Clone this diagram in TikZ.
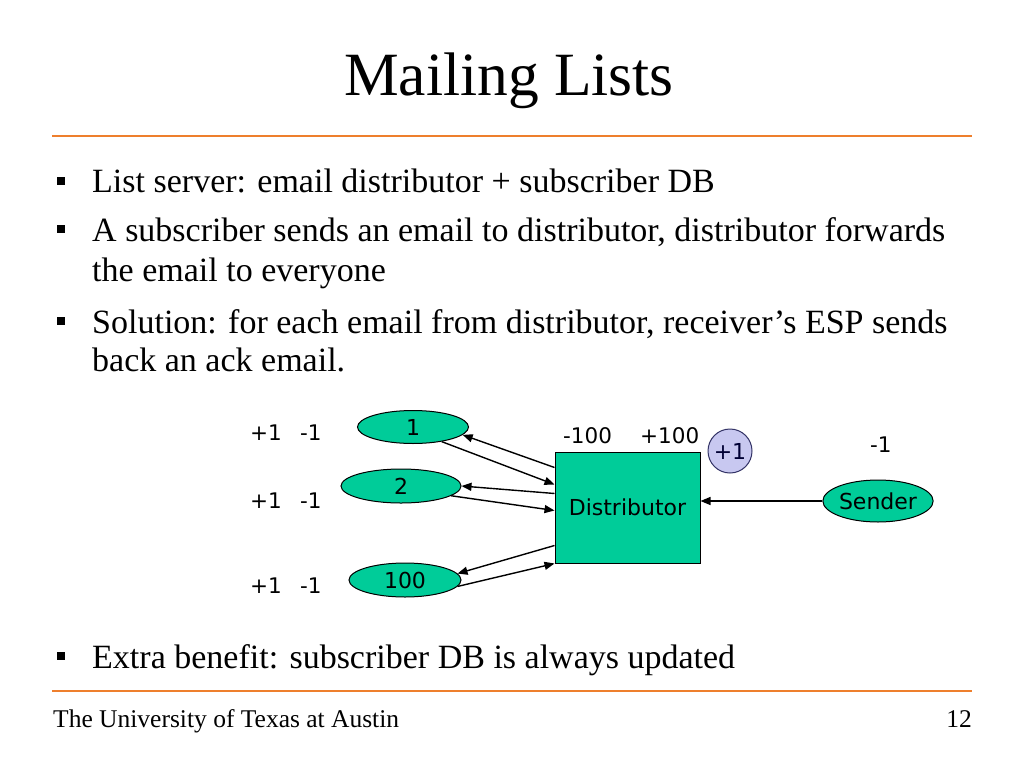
\documentclass[tikz,border=0pt]{standalone}
\usepackage{fontspec}
\setmainfont{Liberation Serif}
\newfontfamily\dv{DejaVu Sans}
\usetikzlibrary{shapes.geometric,arrows.meta}
\definecolor{uorange}{RGB}{238,127,45}
\definecolor{ugreen}{RGB}{0,204,153}
\definecolor{lav}{RGB}{200,200,240}
\definecolor{lavline}{RGB}{51,51,102}
\definecolor{navy}{RGB}{0,0,51}
\tikzset{
  rule/.style={draw=uorange,line width=2pt},
  bodytext/.style={anchor=base west,inner sep=0pt,font=\fontsize{34}{40}\selectfont},
  bulletsq/.style={fill=black,minimum size=8.5pt,inner sep=0pt,draw=none},
  member/.style={ellipse,draw=black,line width=1pt,fill=ugreen,inner sep=0pt,font=\dv\fontsize{22}{26}\selectfont},
  lbl/.style={anchor=base west,inner sep=0pt,font=\dv\fontsize{21.5}{25}\selectfont},
  conn/.style={line width=1.4pt,-{Triangle[length=10pt,width=8pt]}},
}
\begin{document}
\begin{tikzpicture}[x=1pt,y=-1pt]
\useasboundingbox[fill=white] (0,0) rectangle (1024,768);
% title
\node[anchor=base,inner sep=0pt,font=\fontsize{61.5}{70}\selectfont] (title) at (509,95) {Mailing Lists};
\coordinate (r1a) at (52,136); \coordinate (r1b) at (972,136);
\draw[rule] (r1a) -- (r1b);
\coordinate (r2a) at (52,691); \coordinate (r2b) at (972,691);
\draw[rule] (r2a) -- (r2b);
% bullets
\node[bulletsq] (b1) at (61,181) {};
\node[bodytext] (t1) at (92,192) {List server: email distributor + subscriber DB};
\node[bulletsq] (b2) at (61,229) {};
\node[bodytext] (t2) at (92,241) {A subscriber sends an email to distributor, distributor forwards};
\node[bodytext] (t2b) at (92,281) {the email to everyone};
\node[bulletsq] (b3) at (61,321) {};
\node[bodytext] (t3) at (92,333) {Solution: for each email from distributor, receiver’s ESP sends};
\node[bodytext] (t3b) at (92,371) {back an ack email.};
\node[bulletsq] (b4) at (61,656) {};
\node[bodytext] (t4) at (92,668) {Extra benefit: subscriber DB is always updated};
% footer
\node[anchor=base west,inner sep=0pt,font=\fontsize{25.5}{30}\selectfont] (foot) at (53,727) {The University of Texas at Austin};
\node[anchor=base east,inner sep=0pt,font=\fontsize{25.5}{30}\selectfont] (page) at (972,727) {12};
% diagram
\node[member,minimum width=111pt,minimum height=33pt] (e1) at (413,427) {1};
\node[member,minimum width=120pt,minimum height=34pt] (e2) at (401,486) {2};
\node[member,minimum width=112pt,minimum height=34pt] (e100) at (405,580) {100};
\node[draw=black,line width=1pt,fill=ugreen,minimum width=145pt,minimum height=111pt,inner sep=0pt,font=\dv\fontsize{22}{26}\selectfont] (dist) at (627.5,507.5) {Distributor};
\node[member,minimum width=103pt,minimum height=42pt] (sender) at (878,501) {Sender};
\node[circle,draw=lavline,line width=1pt,fill=lav,minimum size=44pt,inner sep=0pt,text=navy,font=\dv\fontsize{22}{26}\selectfont] (plus) at (730,451) {+1};
% labels
\node[lbl] (p1) at (250,440) {+1};
\node[lbl] (m1) at (300,440) {-1};
\node[lbl] (p2) at (250,508) {+1};
\node[lbl] (m2) at (300,508) {-1};
\node[lbl] (p3) at (250,593) {+1};
\node[lbl] (m3) at (300,593) {-1};
\node[lbl] (dm) at (563,443) {-100};
\node[lbl] (dp) at (640,443) {+100};
\node[lbl] (sm) at (870,452) {-1};
% connectors
\draw[conn] ([yshift=-16pt]dist.north west) -- (e1.-9);
\draw[conn] (e1.-27) -- ([yshift=-33pt]dist.north west);
\draw[conn] ([yshift=-42pt]dist.north west) -- (e2.east);
\draw[conn] (e2.-11) -- ([yshift=-59pt]dist.north west);
\draw[conn] ([yshift=-94pt]dist.north west) -- (e100.7);
\draw[conn] (e100.-7) -- (dist.south west);
\draw[conn] (sender.west) -- (sender.west -| dist.east);
\end{tikzpicture}
\end{document}
